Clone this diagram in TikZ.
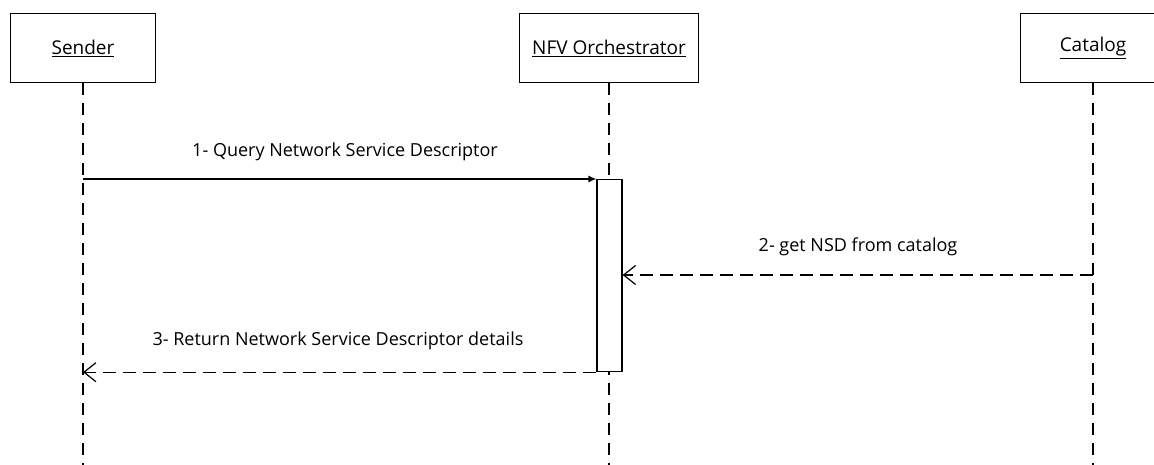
\documentclass[tikz,border=0pt]{standalone}
\usepackage{fontspec}
\setmainfont{Open Sans}
\usetikzlibrary{arrows.meta, positioning}

\tikzset{
  actor/.style={draw, line width=1.3pt, minimum height=69pt, font=\fontsize{19}{22}\selectfont},
  lifeline/.style={line width=1.2pt, dash pattern=on 12pt off 8pt},
  msg/.style={line width=1.2pt, -{Latex[length=8pt,width=7pt]}},
  reply/.style={line width=1.2pt, dash pattern=on 13pt off 7pt, -{Straight Barb[length=12pt,width=19pt]}},
  msglabel/.style={font=\fontsize{18}{21}\selectfont},
  activation/.style={draw, fill=white, line width=1.2pt, minimum width=25pt, inner sep=0pt, anchor=north},
}

\begin{document}
\begin{tikzpicture}[x=1pt, y=-1pt]
    \clip (0,0) rectangle (1154,465);
    \coordinate (bottom) at (0,470);

    % participants
    \node[actor, minimum width=145pt] (sender) at (83,48) {\underline{Sender}};
    \node[actor, minimum width=179pt] (nfvo) at (609,48) {\underline{NFV Orchestrator}};
    \node[actor, minimum width=145pt] (catalog) at (1093,48) {\underline{Catalog}};

    % lifelines
    \draw[lifeline] (sender.south) -- (sender.south |- bottom);
    \draw[lifeline] (nfvo.south) -- (nfvo.south |- bottom);
    \draw[lifeline] (catalog.south) -- (catalog.south |- bottom);

    \node[activation, minimum height=192pt] (act) at (609.5,179) {};

    % messages
    \coordinate (m1) at (sender |- act.north);
    \draw[msg] (m1) -- (act.north west);
    \node[msglabel] (lbl1) at (345,152) {1- Query Network Service Descriptor};

    \coordinate (m2) at (catalog |- 0,275);
    \draw[reply] (m2) -- (act.east |- m2);
    \node[msglabel] (lbl2) at (858,247) {2- get NSD from catalog};

    \coordinate (m3) at (sender |- act.south);
    \draw[reply] (act.south west) -- (m3);
    \node[msglabel] (lbl3) at (338,341) {3- Return Network Service Descriptor details};
\end{tikzpicture}
\end{document}
